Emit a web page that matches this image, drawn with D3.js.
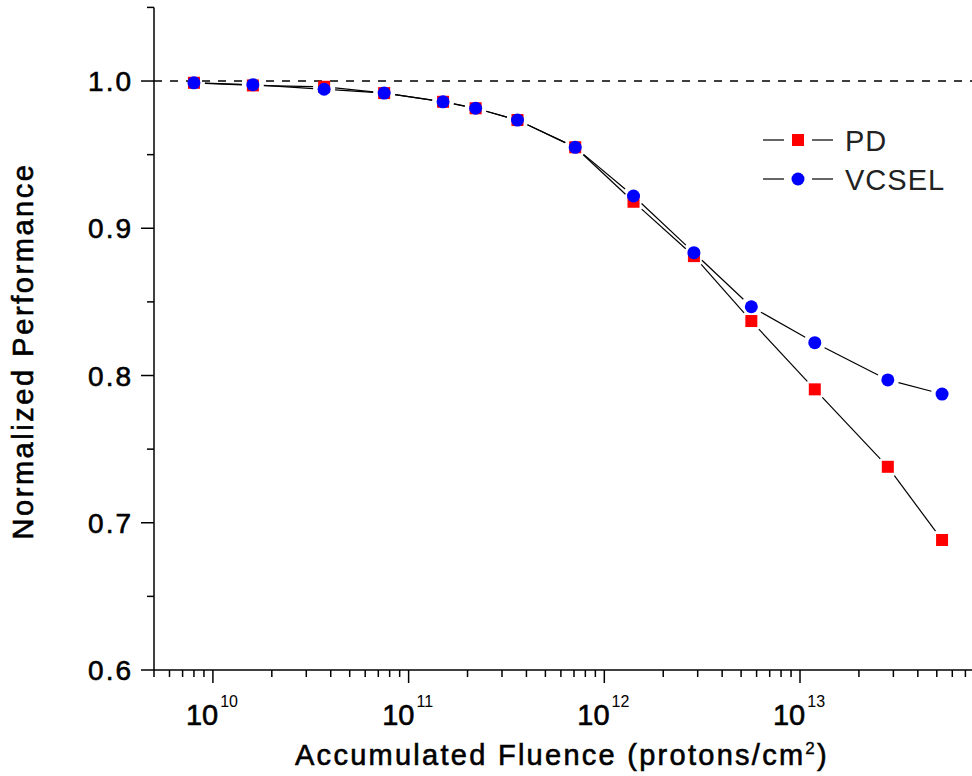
<!DOCTYPE html>
<html>
<head>
<meta charset="utf-8">
<script src="https://cdn.jsdelivr.net/npm/d3@7"></script>
<style>
  html, body { margin: 0; padding: 0; background: #ffffff; }
  svg { display: block; }
  text { font-family: Arial, "Liberation Sans", sans-serif; fill: #000; }
  .heavy { stroke: #000; stroke-width: 0.6px; }
</style>
</head>
<body>
<svg id="chart" width="972" height="776"></svg>
<script>
// Data
const fluence = [8e9, 1.6e10, 3.7e10, 7.5e10, 1.5e11, 2.2e11, 3.6e11, 7.1e11,
                 1.41e12, 2.87e12, 5.64e12, 1.19e13, 2.81e13, 5.32e13];
const pdValues = [0.9988, 0.9970, 0.9961, 0.9918, 0.9859, 0.9815, 0.9735, 0.9550,
                  0.9180, 0.8811, 0.8370, 0.7906, 0.7380, 0.6883];
const vcselValues = [0.9988, 0.9975, 0.9944, 0.9918, 0.9859, 0.9815, 0.9735, 0.9550,
                     0.9219, 0.8834, 0.8467, 0.8223, 0.7970, 0.7874];
const seriesNames = ["PD", "VCSEL"];
const yTickValues = [0.6, 0.7, 0.8, 0.9, 1.0];
const xDecades = [10, 11, 12, 13];

//==========================================
// Layout
//==========================================
const svg = d3.select("#chart");
const X0 = 154, Y0 = 670;

const x = d3.scaleLog().domain([5e9, 1e14]).range([X0, X0 + Math.log10(1e14 / 5e9) * 195.7]);
const y = d3.scaleLinear().domain([0.6, 1.05]).range([Y0, 7.4]);

// Spread letters so a text fills the given width
function fitWidth(textSel, target) {
  const node = textSel.node();
  const n = node.textContent.length;
  const w = node.getComputedTextLength();
  if (n > 1) textSel.style("letter-spacing", ((target - w) / n) + "px");
}

//==========================================
// Axes
//==========================================
// y axis: majors every 0.1, minors every 0.05
const yMinor = d3.range(0.6, 1.0501, 0.05);
svg.append("line")
  .attr("x1", X0).attr("x2", X0).attr("y1", y(1.05)).attr("y2", Y0)
  .attr("stroke", "#000").attr("stroke-width", 1.5);
svg.selectAll(".ytick")
  .data(yMinor)
  .enter().append("line")
  .attr("x1", X0)
  .attr("x2", d => yTickValues.some(v => Math.abs(v - d) < 1e-6) ? X0 - 13 : X0 - 7)
  .attr("y1", d => y(d)).attr("y2", d => y(d))
  .attr("stroke", "#000").attr("stroke-width", 1.5);
svg.selectAll(".ylabel")
  .data(yTickValues)
  .enter().append("text")
  .attr("class", "heavy")
  .attr("x", 133)
  .attr("y", d => y(d) + 10)
  .attr("text-anchor", "end")
  .style("font-size", "28px")
  .style("letter-spacing", "2px")
  .text(d => d.toFixed(1));

// x axis: log ticks
svg.append("line")
  .attr("x1", X0).attr("x2", 972).attr("y1", Y0).attr("y2", Y0)
  .attr("stroke", "#000").attr("stroke-width", 1.5);
const xTicks = x.ticks().filter(t => x(t) <= 972);
svg.selectAll(".xtick")
  .data(xTicks)
  .enter().append("line")
  .attr("x1", d => x(d)).attr("x2", d => x(d))
  .attr("y1", Y0)
  .attr("y2", d => Math.abs(Math.log10(d) - Math.round(Math.log10(d))) < 1e-9 ? Y0 + 13 : Y0 + 7)
  .attr("stroke", "#000").attr("stroke-width", 1.5);
const xLabels = svg.selectAll(".xlabel")
  .data(xDecades)
  .enter().append("text")
  .attr("x", d => x(Math.pow(10, d)) - 1)
  .attr("y", 725)
  .attr("text-anchor", "middle")
  .style("font-size", "29px");
xLabels.append("tspan").attr("class", "heavy").text("10");
xLabels.append("tspan")
  .attr("dx", 2)
  .attr("dy", -18)
  .style("font-size", "16px")
  .text(d => d);

// Axis titles
const xTitle = svg.append("text")
  .attr("class", "heavy")
  .attr("x", 562)
  .attr("y", 765)
  .attr("text-anchor", "middle")
  .style("font-size", "29px");
xTitle.append("tspan").text("Accumulated Fluence (protons/cm");
xTitle.append("tspan").attr("dy", -11).style("font-size", "17px").style("stroke-width", "0.3px").text("2");
xTitle.append("tspan").attr("dy", 11).text(")");
fitWidth(xTitle, 534);

const yTitle = svg.append("text")
  .attr("class", "heavy")
  .attr("transform", "translate(33,351) rotate(-90)")
  .attr("text-anchor", "middle")
  .style("font-size", "29px")
  .text("Normalized Performance");
fitWidth(yTitle, 377);

// Reference line at 1.0
svg.append("line")
  .attr("x1", X0).attr("x2", 972).attr("y1", y(1.0)).attr("y2", y(1.0))
  .attr("stroke", "#000").attr("stroke-width", 1.4)
  .attr("stroke-dasharray", "8,8");

//==========================================
// Series
//==========================================
const series = [
  { name: seriesNames[0], values: pdValues, color: "#ff0000", shape: "square" },
  { name: seriesNames[1], values: vcselValues, color: "#0000ff", shape: "circle" }
];

// Connecting lines leave a small gap around each marker
function gappedSegments(values, gap) {
  const pts = values.map((v, i) => [x(fluence[i]), y(v)]);
  const segs = [];
  for (let i = 0; i < pts.length - 1; i++) {
    const [ax, ay] = pts[i], [bx, by] = pts[i + 1];
    const len = Math.hypot(bx - ax, by - ay);
    if (len <= 2 * gap) continue;
    const ux = (bx - ax) / len, uy = (by - ay) / len;
    segs.push([ax + ux * gap, ay + uy * gap, bx - ux * gap, by - uy * gap]);
  }
  return segs;
}

series.forEach(s => {
  svg.append("g").selectAll("line")
    .data(gappedSegments(s.values, 11))
    .enter().append("line")
    .attr("x1", d => d[0]).attr("y1", d => d[1])
    .attr("x2", d => d[2]).attr("y2", d => d[3])
    .attr("stroke", "#000").attr("stroke-width", 1.2);
});

function drawMarker(g, shape, color, cx, cy) {
  if (shape === "square") {
    g.append("rect")
      .attr("x", cx - 6).attr("y", cy - 6)
      .attr("width", 12).attr("height", 12)
      .attr("fill", color);
  } else {
    g.append("circle")
      .attr("cx", cx).attr("cy", cy).attr("r", 6.5)
      .attr("fill", color);
  }
}

series.forEach(s => {
  const g = svg.append("g");
  s.values.forEach((v, i) => drawMarker(g, s.shape, s.color, x(fluence[i]), y(v)));
});

//==========================================
// Legend
//==========================================
const legendY = [140, 179];
series.forEach((s, i) => {
  const g = svg.append("g");
  const ly = legendY[i];
  g.append("line").attr("x1", 763).attr("x2", 784).attr("y1", ly).attr("y2", ly)
    .attr("stroke", "#000").attr("stroke-width", 1.2);
  g.append("line").attr("x1", 812).attr("x2", 833).attr("y1", ly).attr("y2", ly)
    .attr("stroke", "#000").attr("stroke-width", 1.2);
  drawMarker(g, s.shape, s.color, 798, ly);
  g.append("text")
    .attr("x", 845).attr("y", ly + 11)
    .style("font-size", "29px")
    .style("letter-spacing", "1px")
    .style("fill", "#222")
    .text(s.name);
});
</script>
</body>
</html>
